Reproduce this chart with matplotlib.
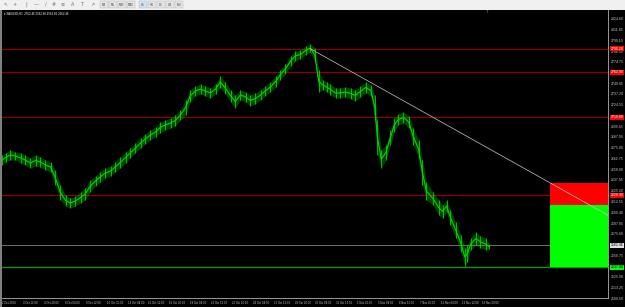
import matplotlib
matplotlib.use("Agg")
import matplotlib.pyplot as plt
import matplotlib.transforms as mtrans
from matplotlib.patches import Rectangle

W, H = 625, 307

# ---------------- data ----------------
symbol_title = "XAUUSD,H1  2562.46 2562.86 2561.66 2562.46"
bar_index = [0, 5, 12, 20, 28, 35, 43, 51, 58, 66, 74, 81, 89, 97, 104, 112, 120, 127,
             135, 143, 150, 158, 166, 173, 181, 189, 196, 204, 212, 219, 227, 235, 242,
             250, 258, 265, 273, 281, 288, 296, 304, 311, 319, 327, 334, 342, 350, 357,
             365, 373, 380, 388, 396, 403, 411, 419, 426, 434, 442, 449, 457, 465, 472,
             479, 485, 491, 497, 503, 511, 518, 526, 534, 541, 549, 557, 565, 571, 575,
             581, 588, 595, 601, 607, 615, 623, 630, 638, 644, 650, 660, 669, 675, 681,
             687, 695, 703, 709, 713, 718, 726, 733, 741, 746]
price_high = [2667.2, 2669.5, 2672.9, 2670.6, 2669.5, 2667.2, 2663.7, 2667.2, 2664.9,
              2661.4, 2659.1, 2649.8, 2632.5, 2620.9, 2617.4, 2619.7, 2624.4, 2629.0,
              2638.2, 2642.9, 2647.5, 2652.1, 2654.4, 2659.1, 2664.9, 2670.6, 2675.3,
              2681.0, 2686.8, 2691.5, 2696.1, 2699.6, 2705.3, 2707.7, 2710.0, 2713.4,
              2719.2, 2730.8, 2742.4, 2747.0, 2749.3, 2747.0, 2744.7, 2749.3, 2758.6,
              2751.6, 2742.4, 2736.6, 2742.4, 2740.1, 2736.6, 2738.9, 2742.4, 2747.0,
              2751.6, 2758.6, 2765.5, 2772.5, 2781.7, 2787.5, 2788.6, 2793.3, 2795.6,
              2791.0, 2765.5, 2753.9, 2751.6, 2749.3, 2744.7, 2744.7, 2745.8, 2744.7,
              2742.4, 2747.0, 2751.6, 2748.2, 2736.6, 2707.7, 2672.9, 2678.7, 2696.1,
              2710.0, 2714.6, 2716.9, 2712.3, 2698.4, 2684.5, 2661.4, 2635.9, 2624.4,
              2615.1, 2609.3, 2615.1, 2603.5, 2589.6, 2574.6, 2559.6, 2563.0, 2571.1,
              2578.1, 2573.4, 2571.1, 2564.2]
price_low = [2655.6, 2659.1, 2661.4, 2661.4, 2657.9, 2655.6, 2652.1, 2654.4, 2653.3,
             2649.8, 2647.5, 2632.5, 2615.1, 2608.2, 2605.8, 2608.2, 2611.6, 2615.1,
             2624.4, 2631.3, 2635.9, 2640.6, 2642.9, 2647.5, 2652.1, 2657.9, 2663.7,
             2669.5, 2675.3, 2679.9, 2684.5, 2688.0, 2692.6, 2696.1, 2698.4, 2700.7,
             2707.7, 2713.4, 2728.5, 2735.4, 2737.7, 2735.4, 2733.1, 2737.7, 2744.7,
             2737.7, 2728.5, 2721.5, 2730.8, 2728.5, 2723.9, 2726.2, 2730.8, 2735.4,
             2740.1, 2745.8, 2753.9, 2760.9, 2770.1, 2775.9, 2778.2, 2782.9, 2786.3,
             2774.8, 2740.1, 2742.4, 2740.1, 2736.6, 2733.1, 2733.1, 2734.3, 2732.0,
             2729.6, 2734.3, 2738.9, 2735.4, 2707.7, 2667.2, 2652.1, 2661.4, 2678.7,
             2693.8, 2701.9, 2704.2, 2698.4, 2678.7, 2663.7, 2632.5, 2615.1, 2609.3,
             2597.7, 2594.3, 2601.2, 2586.2, 2571.1, 2554.9, 2538.7, 2543.4, 2557.2,
             2563.0, 2559.6, 2557.2, 2558.4]
red_levels = [2790.20, 2762.90, 2710.60, 2620.30]
current_price = 2562.46
green_level = 2537.00
red_zone = (2609.3, 2634.8)
green_zone = (2537.0, 2609.3)
zone_start_bar = 840
trend_start = (472, 2790.2)
trend_end = (840, 2634.8)
price_ticks = [2824.60, 2811.85, 2799.10, 2786.35, 2774.75, 2749.85, 2737.20,
               2724.55, 2699.45, 2687.90, 2675.00, 2662.75, 2650.00, 2637.95,
               2625.20, 2612.55, 2600.40, 2587.85, 2575.60, 2550.75, 2525.90,
               2513.25, 2500.50]
time_labels = ["2 Oct 2024", "3 Oct 12:00", "4 Oct 20:00", "8 Oct 04:00", "9 Oct 12:00",
               "10 Oct 20:00", "14 Oct 04:00", "15 Oct 12:00", "16 Oct 20:00",
               "18 Oct 04:00", "21 Oct 12:00", "22 Oct 20:00", "24 Oct 04:00",
               "25 Oct 12:00", "28 Oct 20:00", "30 Oct 04:00", "31 Oct 12:00",
               "1 Nov 20:00", "5 Nov 04:00", "6 Nov 12:00", "7 Nov 20:00",
               "11 Nov 04:00", "12 Nov 12:00", "13 Nov 20:00"]
bars_per_label = 32
periods = ["M1", "M5", "M15", "M30", "H1", "H4", "D1", "W1", "MN"]

FONT = ["Liberation Sans", "DejaVu Sans"]
plt.rcParams["font.family"] = FONT

# ---------------- figure ----------------
def fx(px):
    return px / W

def fy(py):
    return 1 - py / H

fig = plt.figure(figsize=(W / 100, H / 100), dpi=100)
fig.patch.set_facecolor("black")

# toolbar
fig.add_artist(Rectangle((0, fy(9.5)), 1, 9.5 / H, transform=fig.transFigure,
                         facecolor="#f0f0f0", edgecolor="none", zorder=0))
icons = ["↖", "+", "|", "—", "/", "#", "≡", "A", "T", "↗"]
icon_x = [5, 15, 26, 36, 46, 54, 63, 73, 82, 92]
for x, ic in zip(icon_x, icons):
    fig.text(fx(x), fy(4.5), ic, fontsize=3.5, color="#707070", ha="center",
             va="center", family=["DejaVu Sans"])
px0 = 104
for i, p in enumerate(periods):
    x = px0 + i * 9 + (3 if i >= 4 else 0)
    fig.add_artist(Rectangle((fx(x - 4), fy(7.5)), 8 / W, 6 / H, transform=fig.transFigure,
                             facecolor="#e4e4e4" if p != "H1" else "#cfe3f7",
                             edgecolor="#b0b0b0", lw=0.3))
    fig.text(fx(x), fy(4.5), p, fontsize=2.1, color="#404040", ha="center", va="center")

# left gray strip
fig.add_artist(Rectangle((0, 0), fx(2), fy(9.5), transform=fig.transFigure,
                         facecolor="#808080", edgecolor="none"))

ax = fig.add_axes([fx(2), fy(298), (608 - 2) / W, (298 - 10) / H])
ax.set_facecolor("black")
ax.set_xlim(-0.5, 928.5)
ax.set_ylim(2501.7, 2834.9)
ax.set_xticks([])
ax.set_yticks([])
for s in ["left", "top"]:
    ax.spines[s].set_visible(False)
for s in ["right", "bottom"]:
    ax.spines[s].set_color("#b0b0b0")
    ax.spines[s].set_linewidth(0.6)

# price bars
ax.fill_between(bar_index, price_low, price_high, color="#00c000", alpha=0.35,
                lw=0, zorder=3)
ax.vlines(bar_index, price_low, price_high, color="#00e000", lw=0.55, zorder=3)
mid = [(h + l) / 2 for h, l in zip(price_high, price_low)]
ax.plot(bar_index, mid, color="#00d800", lw=0.8, zorder=3)

# horizontal levels
for lv in red_levels:
    ax.axhline(lv, color="#8b0000", lw=0.9, zorder=2)
ax.axhline(current_price, color="#808080", lw=0.6, zorder=2)
ax.axhline(green_level, color="#00a000", lw=0.9, zorder=2)

# zones
ax.add_patch(Rectangle((zone_start_bar, red_zone[0]), 200, red_zone[1] - red_zone[0],
                       facecolor="#ff0000", edgecolor="none", zorder=4))
ax.add_patch(Rectangle((zone_start_bar, green_zone[0]), 200, green_zone[1] - green_zone[0],
                       facecolor="#00ff00", edgecolor="none", zorder=4))

# trend line (ray)
slope = (trend_end[1] - trend_start[1]) / (trend_end[0] - trend_start[0])
x_end = 1000
ax.plot([trend_start[0], x_end],
        [trend_start[1], trend_start[1] + slope * (x_end - trend_start[0])],
        color="#c8c8c8", lw=0.5, zorder=5)

# price axis labels
tr_y = mtrans.blended_transform_factory(fig.transFigure, ax.transData)
for p in price_ticks:
    fig.text(fx(611), p, f"{p:.2f}", transform=tr_y, fontsize=2.5, color="#c8c8c8",
             va="center", ha="left")
box = dict(boxstyle="square,pad=0.2", edgecolor="none")
for lv in red_levels:
    fig.text(fx(610.5), lv, f"{lv:.2f}", transform=tr_y, fontsize=2.5, color="white",
             va="center", ha="left", zorder=6, bbox=dict(box, facecolor="#ff0000"))
fig.text(fx(610.5), current_price, f"{current_price:.2f}", transform=tr_y, fontsize=2.5,
         color="black", va="center", ha="left", zorder=6,
         bbox=dict(box, facecolor="#e0e0e0"))
fig.text(fx(610.5), green_level, f"{green_level:.2f}", transform=tr_y, fontsize=2.5,
         color="black", va="center", ha="left", zorder=6,
         bbox=dict(box, facecolor="#00ff00"))

# time axis labels
tr_x = mtrans.blended_transform_factory(ax.transData, fig.transFigure)
for k, lab in enumerate(time_labels):
    fig.text(k * bars_per_label, fy(302.5), lab, transform=tr_x, fontsize=2.0,
             color="#c8c8c8", ha="left", va="center")

# title
fig.text(fx(4), fy(13.5), "▾ " + symbol_title, fontsize=2.1, color="white",
         ha="left", va="center")
fig.text(fx(487), fy(12), "T", fontsize=3, color="#909090", ha="center", va="center")

fig.savefig("out.png", dpi=100, facecolor=fig.get_facecolor())
